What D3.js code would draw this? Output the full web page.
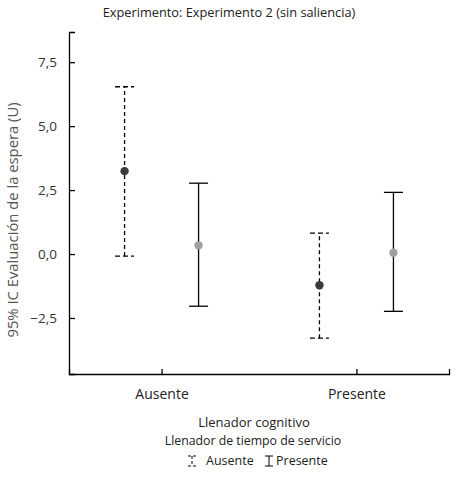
<!DOCTYPE html>
<html>
<head>
<meta charset="utf-8">
<title>Experimento 2 | D3</title>
<style>
  body { margin: 0; background: #fff; }
  text { font-family: "Open Sans", "Noto Sans", sans-serif; }
</style>
<script src="https://d3js.org/d3.v7.min.js"></script>
</head>
<body>
<script>
// data
var groups = ["Ausente", "Presente"];          // Llenador cognitivo
var series = ["Ausente", "Presente"];          // Llenador de tiempo de servicio
var means  = [[3.24, 0.34], [-1.22, 0.05]];
var lower  = [[-0.08, -2.04], [-3.29, -2.24]];
var upper  = [[6.54, 2.77], [0.82, 2.41]];
var yTicks = [-2.5, 0, 2.5, 5, 7.5];

var width = 459, height = 479;
var mLeft = 69, mRight = 449, mTop = 32, mBottom = 374;

var svg = d3.select("body").append("svg")
    .attr("width", width)
    .attr("height", height);

var x = d3.scalePoint().domain(groups).range([mLeft, mRight]).padding(0.475);
var off = d3.scalePoint().domain(series).range([-37, 37]);
var y = d3.scaleLinear().domain([-4.69, 8.68]).range([mBottom, mTop]);

var fmt = function(d) { return d3.format(".1f")(d).replace(".", ","); };

// axes, ticks point inward
var yAxis = svg.append("g")
    .attr("transform", "translate(" + mLeft + ",0)")
    .call(d3.axisRight(y).tickValues(yTicks).tickSize(6).tickSizeOuter(6).tickFormat(fmt));
yAxis.selectAll(".tick text")
    .attr("x", -12).attr("text-anchor", "end")
    .attr("font-size", 13.5).attr("fill", "#333");

var xAxis = svg.append("g")
    .attr("transform", "translate(0," + mBottom + ")")
    .call(d3.axisTop(x).tickSize(5).tickSizeOuter(5));
xAxis.selectAll(".tick text")
    .attr("y", 21).attr("dy", "0.32em")
    .attr("font-size", 14).attr("fill", "#222");

svg.selectAll(".domain, .tick line").attr("stroke", "#000").attr("stroke-width", 1.3);

// error bars
var rows = [];
groups.forEach(function(g, i) {
  series.forEach(function(s, j) {
    rows.push({ g: g, s: s, m: means[i][j], lo: lower[i][j], hi: upper[i][j] });
  });
});

var dash = function(d) { return d.s === "Ausente" ? "4,3" : null; };
var bars = svg.append("g").selectAll("g").data(rows).enter().append("g")
    .attr("transform", function(d) { return "translate(" + (x(d.g) + off(d.s)) + ",0)"; });

bars.append("line")
    .attr("y1", function(d) { return y(d.lo); })
    .attr("y2", function(d) { return y(d.hi); })
    .attr("stroke", "#000").attr("stroke-width", 1.3)
    .attr("stroke-dasharray", dash);
bars.selectAll(".cap").data(function(d) { return [d.lo, d.hi].map(function(v) { return { v: v, s: d.s }; }); })
  .enter().append("line")
    .attr("x1", -9.5).attr("x2", 9.5)
    .attr("y1", function(c) { return y(c.v); })
    .attr("y2", function(c) { return y(c.v); })
    .attr("stroke", "#000").attr("stroke-width", 1.3)
    .attr("stroke-dasharray", function(c) { return c.s === "Ausente" ? "5,3" : null; });
bars.append("circle")
    .attr("cy", function(d) { return y(d.m); })
    .attr("r", 4.2)
    .attr("fill", function(d) { return d.s === "Ausente" ? "#3a3a3a" : "#a0a0a0"; });

// titles
svg.append("text").attr("x", 229).attr("y", 13).attr("dy", "0.35em")
    .attr("text-anchor", "middle").attr("font-size", 12.8).attr("fill", "#222")
    .text("Experimento: Experimento 2 (sin saliencia)");

svg.append("text")
    .attr("transform", "translate(13,220) rotate(-90)")
    .attr("dy", "0.35em").attr("text-anchor", "middle")
    .attr("font-size", 14.8).attr("fill", "#555")
    .text("95% IC Evaluación de la espera (U)");

svg.append("text").attr("x", 254).attr("y", 422).attr("dy", "0.35em")
    .attr("text-anchor", "middle").attr("font-size", 13).attr("fill", "#222")
    .text("Llenador cognitivo");
svg.append("text").attr("x", 253).attr("y", 441).attr("dy", "0.35em")
    .attr("text-anchor", "middle").attr("font-size", 12.3).attr("fill", "#222")
    .text("Llenador de tiempo de servicio");

// legend
var leg = svg.append("g").attr("transform", "translate(0,461)");
var legX = [192, 269], legTextX = [206, 276];
series.forEach(function(s, j) {
  var k = leg.append("g").attr("transform", "translate(" + legX[j] + ",0)");
  var da = s === "Ausente" ? "3,2" : null;
  k.append("line").attr("y1", -5).attr("y2", 5).attr("stroke", "#000").attr("stroke-dasharray", da);
  k.append("line").attr("x1", -4).attr("x2", 4).attr("y1", -5).attr("y2", -5).attr("stroke", "#000").attr("stroke-dasharray", da);
  k.append("line").attr("x1", -4).attr("x2", 4).attr("y1", 5).attr("y2", 5).attr("stroke", "#000").attr("stroke-dasharray", da);
  leg.append("text").attr("x", legTextX[j]).attr("dy", "0.35em")
    .attr("font-size", 12.5).attr("fill", "#222").text(s);
});
</script>
</body>
</html>
